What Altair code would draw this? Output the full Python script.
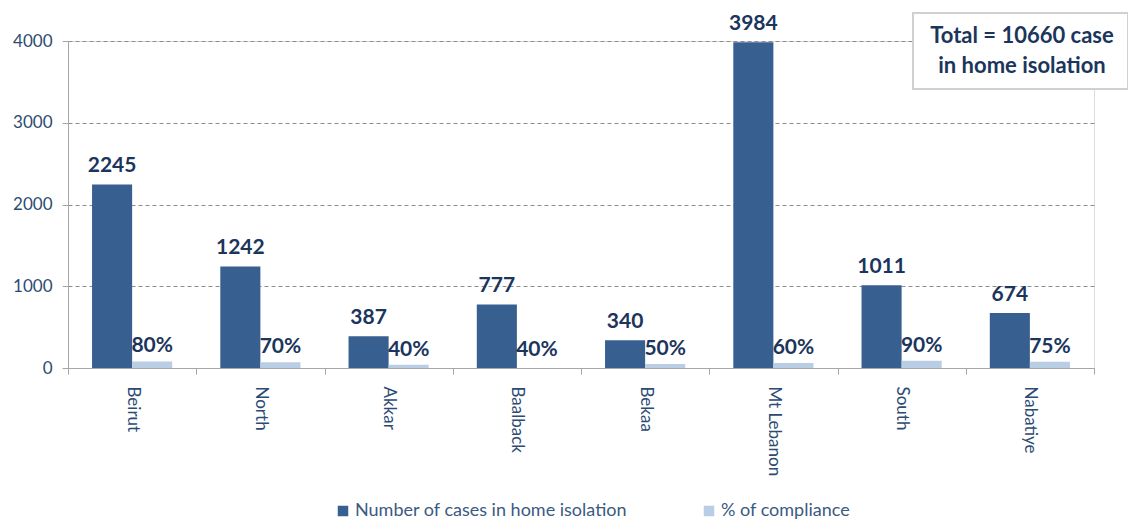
import altair as alt
import pandas as pd

regions = ["Beirut", "North", "Akkar", "Baalback", "Bekaa", "Mt Lebanon", "South", "Nabatiye"]
cases = [2245, 1242, 387, 777, 340, 3984, 1011, 674]
compliance_pct = [80, 70, 40, 40, 50, 60, 90, 75]
# visible height of the light bars in the picture (Baalback's bar is not drawn)
compliance_bar = [80, 70, 40, 0, 50, 60, 90, 75]
series = ["Number of cases in home isolation", "% of compliance"]
y_ticks = [0, 1000, 2000, 3000, 4000]

total = sum(cases)

dark = "#375F90"
light = "#B9CDE5"
navy = "#1B355C"
label_col = "#2C4B74"
font = "Lato"

bars_df = pd.DataFrame(
    {"region": regions * 2,
     "series": [series[0]] * len(regions) + [series[1]] * len(regions),
     "value": cases + compliance_bar}
)
cases_df = pd.DataFrame({"region": regions, "series": series[0], "value": cases,
                         "label": [str(c) for c in cases]})
pct_df = pd.DataFrame({"region": regions, "series": series[1], "value": compliance_pct,
                       "label": [f"{p}%" for p in compliance_pct]})

xenc = alt.X("region:N", sort=regions, title=None,
             scale=alt.Scale(paddingInner=0, paddingOuter=0),
             axis=alt.Axis(labelAngle=90, tickBand="extent", labelFont=font,
                           labelFontSize=17, labelColor=label_col, domainColor="#A6A6A6",
                           tickColor="#A6A6A6", tickSize=6, labelPadding=12, grid=False))
xoff = alt.XOffset("series:N", sort=series,
                   scale=alt.Scale(domain=series, paddingInner=0, paddingOuter=0.6))
yscale = alt.Scale(domain=[0, 4000], nice=False)

bars = alt.Chart(bars_df).mark_bar().encode(
    x=xenc,
    xOffset=xoff,
    y=alt.Y("value:Q", scale=yscale, title=None,
            axis=alt.Axis(values=y_ticks, format="d", labelFont=font, labelFontSize=17,
                          labelColor=label_col, domainColor="#A6A6A6", tickColor="#A6A6A6",
                          tickSize=6, labelPadding=10, grid=True, gridDash=[4, 3],
                          gridColor="#8C8C8C", gridWidth=1)),
    color=alt.Color("series:N", sort=series,
                    scale=alt.Scale(domain=series, range=[dark, light]),
                    legend=alt.Legend(title=None, orient="none", direction="horizontal",
                                      legendX=266, legendY=461, symbolType="square",
                                      symbolSize=110, symbolStrokeWidth=0,
                                      labelFont=font, labelFontSize=18, labelLimit=0,
                                      labelColor="#3A5A82", columnPadding=72,
                                      labelOffset=3)),
)

case_labels = alt.Chart(cases_df).mark_text(
    baseline="bottom", dy=-8, font=font, fontSize=21, fontWeight="bold", color=navy
).encode(x=alt.X("region:N", sort=regions), xOffset=xoff,
         y=alt.Y("value:Q", scale=yscale), text="label:N")

pct_labels = alt.Chart(pct_df).mark_text(
    baseline="bottom", dy=-5, font=font, fontSize=21, fontWeight="bold", color=navy
).encode(x=alt.X("region:N", sort=regions), xOffset=xoff,
         y=alt.Y("value:Q", scale=yscale), text="label:N")

box_df = pd.DataFrame({"k": [0]})
box = alt.Chart(box_df).mark_rect(fill="white", stroke="#D0D0D0", strokeWidth=2).encode(
    x=alt.value(845), x2=alt.value(1060), y=alt.value(-28), y2=alt.value(48)
)
box_text = alt.Chart(box_df).mark_text(
    font=font, fontSize=22, fontWeight="bold", color=navy, align="center",
    baseline="middle", lineHeight=30
).encode(x=alt.value(954), y=alt.value(-5),
         text=alt.value([f"Total = {total} case", "in home isolation"]))

chart = alt.layer(bars, case_labels, pct_labels, box, box_text).properties(
    width=1026, height=327,
    autosize=alt.AutoSizeParams(type="none"),
    padding={"left": 60, "top": 33, "right": 34, "bottom": 154},
).configure_view(stroke=None).configure(background="white")

chart.save("out.html", embed_options={"renderer": "svg", "actions": False})
